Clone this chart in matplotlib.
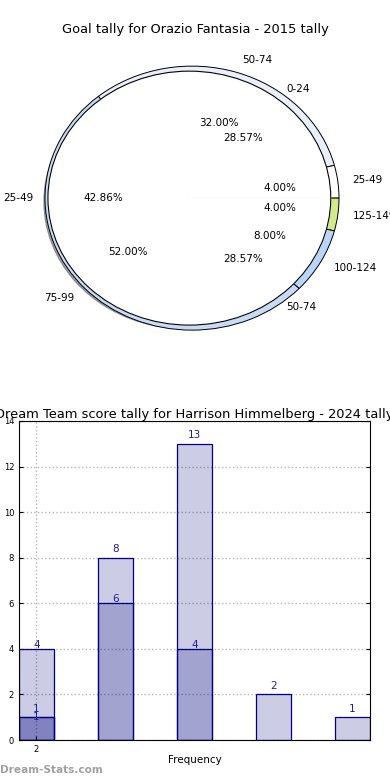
import matplotlib
matplotlib.use("Agg")
import matplotlib.pyplot as plt
from matplotlib.patches import Circle
import numpy as np

# pie 1 (outer ring)
pie1_labels = ['50-74', '25-49', '125-149', '100-124', '75-99']
pie1_values = [8, 1, 1, 2, 13]
pie1_colors = ['#e9f0fc', '#ffffff', '#d3ea8b', '#b9d6fa', '#c6dbf8']

# pie 2 (drawn on top)
pie2_labels = ['0-24', '25-49', '50-74']
pie2_values = [2, 3, 2]

# bars
bar_cats = ['2', '', '', '', '']
series_a = [1, 8, 13, 2, 1]
series_b = [4, 6, 4, 0, 0]
series_c = [1, 0, 0, 0, 0]

fig = plt.figure(figsize=(3.9, 7.8), dpi=100)

# ---- pie ----
ax1 = fig.add_axes([0.0023, 0.526, 0.98, 0.44])
ax1.pie(pie1_values, labels=pie1_labels, colors=pie1_colors, autopct='%.2f%%',
        startangle=129.6, counterclock=False, radius=1.0,
        wedgeprops={'edgecolor': 'black', 'linewidth': 0.7},
        textprops={'fontsize': 7.5})
c2 = (-0.018, 0)
ax1.pie(pie2_values, labels=pie2_labels, colors=['white'] * 3, autopct='%.2f%%',
        startangle=0, radius=0.962, center=c2, shadow=True, pctdistance=0.61,
        wedgeprops={'edgecolor': 'white', 'linewidth': 0.8},
        textprops={'fontsize': 7.5})
# outline of the inner pie
ax1.add_patch(Circle(c2, 0.962, fill=False, edgecolor='black', linewidth=0.8, zorder=2))
ax1.set_aspect('auto')
ax1.set_xlim(-1.3, 1.3)
ax1.set_ylim(-1.3, 1.3)
ax1.axis('off')
fig.text(0.5, 1 - 30 / 780, 'Goal tally for Orazio Fantasia - 2015 tally',
         ha='center', va='center', fontsize=9.4)

# ---- bars ----
ax2 = fig.add_axes([19 / 390, 40 / 780, 351 / 390, 319 / 780])
x = np.arange(len(series_a))
w = 0.44
face = (0, 0, 0.5, 0.2)
lab_col = '#1f1f9c'
for vals, off, va in [(series_a, 0.15, 'bottom'), (series_b, 0.17, 'center'), (series_c, 0.0, 'center')]:
    xs = [xi for xi, v in zip(x, vals) if v > 0]
    vs = [v for v in vals if v > 0]
    ax2.bar(xs, vs, width=w, color=face, edgecolor='#000080', linewidth=0.9)
    for xi, v in zip(xs, vs):
        ax2.text(xi, v + off, str(v), ha='center', va=va, color=lab_col, fontsize=7.5)

ax2.set_xlim(-w / 2, len(series_a) - 1 + w / 2)
ax2.set_ylim(0, 14)
ax2.set_yticks(range(0, 15, 2))
ax2.set_xticks([0])
ax2.set_xticklabels([bar_cats[0]])
ax2.tick_params(labelsize=6, direction='in', length=3, right=True, top=False, colors='black')
ax2.grid(True, linestyle=':', color='#b5b5b5', linewidth=1)
ax2.set_axisbelow(True)
ax2.set_xlabel('Frequency', fontsize=7.5, labelpad=1)
ax2.set_title('Dream Team score tally for Harrison Himmelberg - 2024 tally', fontsize=9.4, pad=2)

fig.text(0.0, 1 - 770 / 780, 'Dream-Stats.com', ha='left', va='center',
         fontsize=7.6, fontweight='bold', color='#a0a0a0')

fig.savefig('out.png', dpi=100)
